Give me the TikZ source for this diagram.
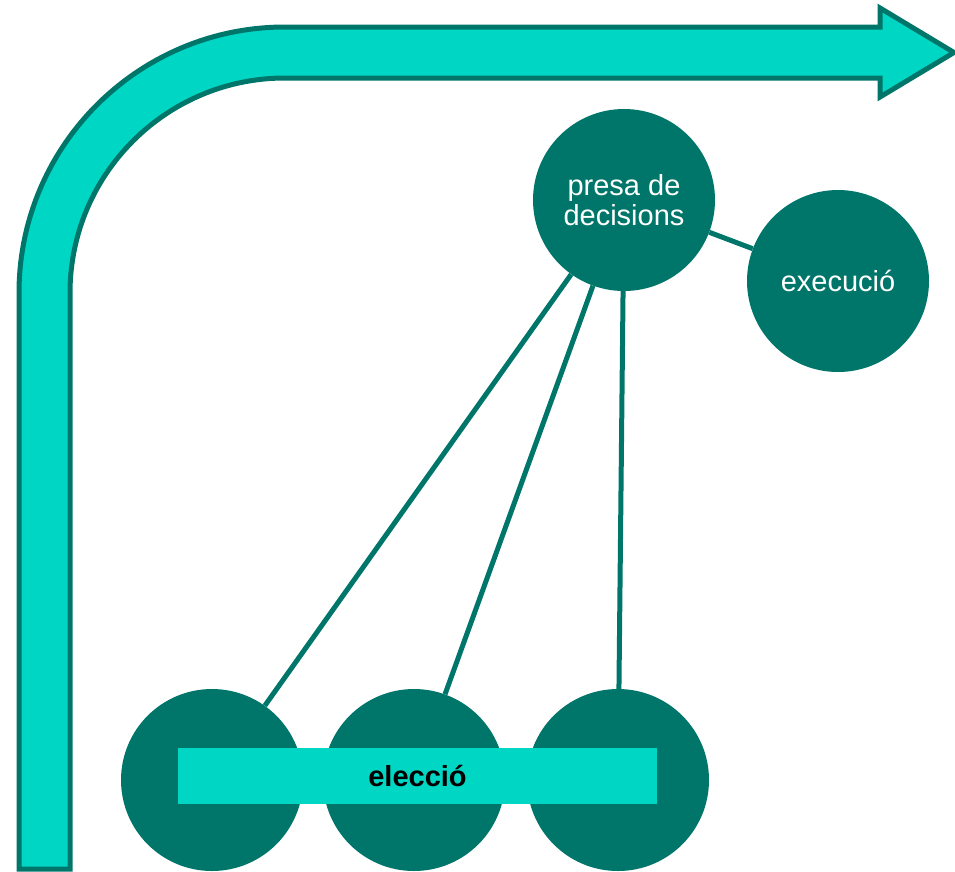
\documentclass[tikz,border=0pt]{standalone}
\usepackage{fontspec}
\setmainfont{Liberation Sans}
\definecolor{darkteal}{RGB}{0,118,106}
\definecolor{lightteal}{RGB}{0,214,196}
\tikzset{
  bigcircle/.style={circle, fill=darkteal, minimum size=182pt, inner sep=0pt, text=white, align=center,
    font=\fontsize{29}{30}\selectfont},
  link/.style={draw=darkteal, line width=5pt},
  bar/.style={fill=lightteal, minimum width=479pt, minimum height=56pt, inner sep=0pt,
    font=\fontsize{29}{30}\selectfont\bfseries, text=black}
}
\begin{document}
\begin{tikzpicture}[x=1pt, y=-1pt]
\useasboundingbox (0,0) rectangle (955,871);
% bent arrow
\draw[draw=darkteal, fill=lightteal, line width=5pt, line join=miter]
  (19,869) -- (19,293) arc (180:270:266) -- (880,27) -- (880,8) -- (954,52.5)
  -- (880,97) -- (880,78) -- (285,78) arc (270:180:215) -- (70,869) -- cycle;
% circles
\node[bigcircle] (pd) at (624,200) {presa de\\decisions};
\node[bigcircle] (ex) at (838,281) {execució};
\node[bigcircle] (c1) at (212,780) {};
\node[bigcircle] (c2) at (414,780) {};
\node[bigcircle] (c3) at (618,780) {};
% connectors
\draw[link] (pd) -- (ex);
\draw[link] (pd) -- (c1);
\draw[link] (pd) -- (c2);
\draw[link] (pd) -- (c3);
% bar
\node[bar] (el) at (417.5,776) {elecció};
\end{tikzpicture}
\end{document}
